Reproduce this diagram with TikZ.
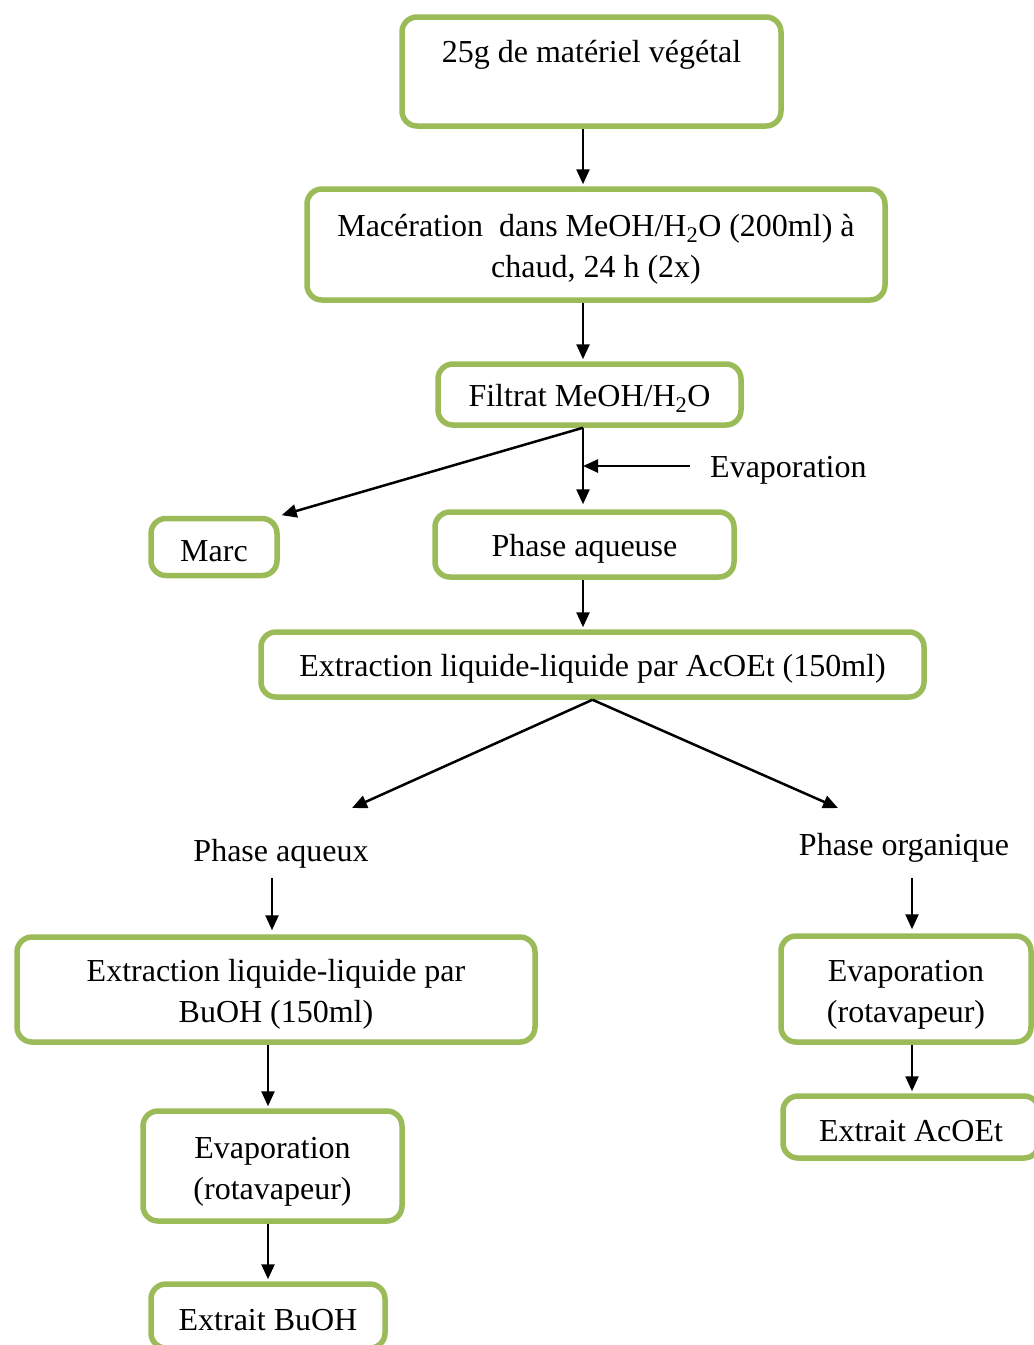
\documentclass[tikz,border=0pt]{standalone}
\usepackage{fontspec}
\setmainfont{Liberation Serif}
\usetikzlibrary{arrows.meta, positioning}
\definecolor{OliveGreen}{RGB}{155,187,89}
\newcommand{\firststrut}{\rule{0pt}{32pt}}

\begin{document}
\begin{tikzpicture}[
    x=1pt, y=-1pt,
    font=\fontsize{32}{41}\selectfont,
    box/.style={rectangle, draw=OliveGreen, fill=white, line width=5.5pt, rounded corners=15pt, inner sep=0pt, align=center,
        execute at begin node={\rule{0pt}{30pt}}},
    plain/.style={inner sep=0pt, align=center, execute at begin node={\rule{0pt}{30pt}}},
    arrow/.style={-{Triangle[length=15pt, width=13pt]}, line width=2.5pt, shorten >=2pt}
]
\useasboundingbox (0,0) rectangle (1034,1345);
% vertical guides for the arrows
\coordinate (mainX) at (583,0);
\coordinate (leftX) at (272,0);
\coordinate (leftY) at (268,0);
\coordinate (rightX) at (912,0);

\node[box, minimum width=379pt, minimum height=109pt] (plant) at (591.5,71.5) {25g de matériel végétal\\\mbox{}};
\node[box, minimum width=578pt, minimum height=111pt] (maceration) at (596,244.5) {\firststrut Macération\ \ dans MeOH/H\textsubscript{2}O (200ml) à\\chaud, 24 h (2x)};
\node[box, minimum width=303pt, minimum height=61pt] (filtrate) at (589.5,394.5) {Filtrat MeOH/H\textsubscript{2}O};
\node[box, minimum width=126pt, minimum height=57pt] (marc) at (214,547) {Marc};
\node[box, minimum width=299pt, minimum height=65pt] (aqPhase) at (584.5,544.5) {Phase aqueuse};
\node[box, minimum width=663pt, minimum height=65pt] (extrAcOEt) at (592.5,664.5) {Extraction liquide-liquide par AcOEt (150ml)};
\node[plain, anchor=west, inner xsep=20pt] (evapNote) at (690,466) {Evaporation};
\node[plain, minimum height=56pt] (aqPhaseB) at (281,850) {Phase aqueux};
\node[plain, minimum height=68pt] (orgPhase) at (904,844) {Phase organique};
\node[box, minimum width=518pt, minimum height=105pt] (extrBuOH) at (276,989.5) {\firststrut Extraction liquide-liquide par\\BuOH (150ml)};
\node[box, minimum width=259pt, minimum height=110pt] (evapLeft) at (272.5,1166) {\firststrut Evaporation\\(rotavapeur)};
\node[box, minimum width=234pt, minimum height=64pt] (extraitBuOH) at (268,1316) {Extrait BuOH};
\node[box, minimum width=250pt, minimum height=106pt] (evapRight) at (906,989) {\firststrut Evaporation\\(rotavapeur)};
\node[box, minimum width=256pt, minimum height=62pt] (extraitAcOEt) at (911,1127) {Extrait AcOEt};
\coordinate (tipLeft) at (352,808);
\coordinate (tipRight) at (838,808);

\draw[arrow] (plant.south -| mainX) -- (maceration.north -| mainX);
\draw[arrow] (maceration.south -| mainX) -- (filtrate.north -| mainX);
\draw[arrow, shorten >=5pt] (filtrate.south -| mainX) -- (aqPhase.north -| mainX);
\draw[arrow] (filtrate.south -| mainX) -- (marc.north east);
\draw[arrow, shorten >=0pt] (evapNote.west) -- (evapNote.west -| mainX);
\draw[arrow] (aqPhase.south -| mainX) -- (extrAcOEt.north -| mainX);
\draw[arrow, shorten >=0pt] (extrAcOEt.south) -- (tipLeft);
\draw[arrow, shorten >=0pt] (extrAcOEt.south) -- (tipRight);
\draw[arrow, shorten >=4pt] (aqPhaseB.south -| leftX) -- (extrBuOH.north -| leftX);
\draw[arrow, shorten >=4pt] (orgPhase.south -| rightX) -- (evapRight.north -| rightX);
\draw[arrow] (extrBuOH.south -| leftY) -- (evapLeft.north -| leftY);
\draw[arrow] (evapLeft.south -| leftY) -- (extraitBuOH.north -| leftY);
\draw[arrow] (evapRight.south -| rightX) -- (extraitAcOEt.north -| rightX);
\end{tikzpicture}
\end{document}
